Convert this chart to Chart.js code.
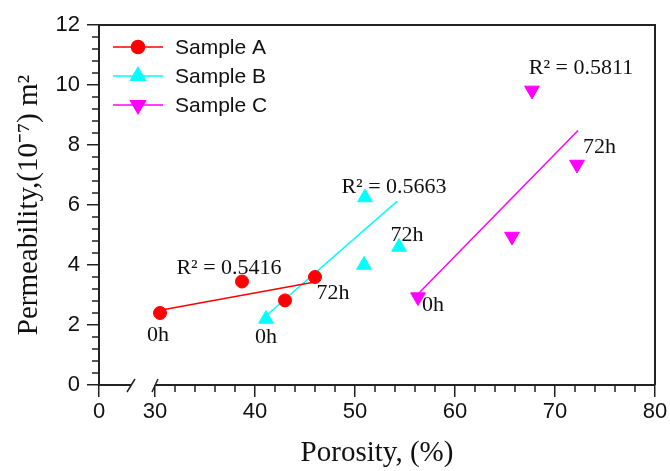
<!DOCTYPE html>
<html>
<head>
<meta charset="utf-8">
<title>Porosity vs permeability</title>
<script src="https://cdn.jsdelivr.net/npm/chart.js@4.4.1/dist/chart.umd.min.js"></script>
<style>
	html, body { margin: 0; padding: 0; background: #fff; }
	#wrap { width: 670px; height: 471px; }
</style>
</head>
<body>
<div id="wrap"><canvas id="porosityChart" width="670" height="471"></canvas></div>
<script>
// porosity (%) and permeability (10^-7 m2)
const porosityA = [30.5, 38.7, 43.0, 46.0];
const permeabilityA = [2.4, 3.45, 2.82, 3.6];
const porosityB = [41.1, 50.9, 51.0, 54.4];
const permeabilityB = [2.2, 4.0, 6.25, 4.6];
const porosityC = [56.3, 65.7, 67.7, 72.2];
const permeabilityC = [2.93, 4.95, 9.82, 7.35];

// trend lines, end points as drawn
const trendXA = [30.65, 45.7];
const trendYA = [2.5, 3.42];
const trendXB = [40.7, 54.2];
const trendYB = [2.19, 6.12];
const trendXC = [56.3, 72.3];
const trendYC = [3.03, 8.48];

const seriesLabels = ['Sample A', 'Sample B', 'Sample C'];
const xTicks = [0, 30, 40, 50, 60, 70, 80];
const yTicks = [0, 2, 4, 6, 8, 10, 12];

// text notes on the plot
const noteText = ['R\u00b2 = 0.5416', '0h', '72h', 'R\u00b2 = 0.5663', '0h', '72h', 'R\u00b2 = 0.5811', '0h', '72h'];
const noteX = [37.4, 30.3, 47.8, 53.9, 41.1, 55.2, 72.6, 57.8, 74.45];
const noteY = [3.9, 1.67, 3.07, 6.6, 1.6, 5.0, 10.57, 2.67, 7.92];

// the x axis is broken between 0 and 30: "0" sits at this value
const xAxisStart = 24.4;
const breakFrom = 27.6;
const breakTo = 30;

function pts(xs, ys)
{
	return xs.map(function(x, i) { return {x: x, y: ys[i]}; });
}

const colA = '#ff0000';
const colB = '#00ffff';
const colC = '#ff00ff';

const brokenAxis = {
	id: 'brokenAxis',
	afterDraw: function(chart)
	{
		const ctx = chart.ctx;
		const area = chart.chartArea;
		const xs = chart.scales.x;
		const ys = chart.scales.y;

		ctx.save();
		ctx.strokeStyle = '#222';
		ctx.lineWidth = 2;

		// frame top and right
		ctx.beginPath();
		ctx.moveTo(area.left, area.top);
		ctx.lineTo(area.right, area.top);
		ctx.lineTo(area.right, area.bottom);
		ctx.stroke();

		// x axis line with a gap
		const b1 = xs.getPixelForValue(breakFrom);
		const b2 = xs.getPixelForValue(breakTo);
		ctx.beginPath();
		ctx.moveTo(area.left, area.bottom);
		ctx.lineTo(b1, area.bottom);
		ctx.moveTo(b2, area.bottom);
		ctx.lineTo(area.right, area.bottom);
		ctx.stroke();

		ctx.lineWidth = 1.5;
		ctx.beginPath();
		ctx.moveTo(b1 - 4, area.bottom + 7);
		ctx.lineTo(b1 + 4, area.bottom - 6);
		ctx.moveTo(b2 - 3, area.bottom + 7);
		ctx.lineTo(b2 + 3, area.bottom - 6);
		ctx.stroke();

		// minor ticks
		ctx.beginPath();
		for (let i = 1; i < 30; i++)
		{
			if (i % 5 === 0) continue;
			const py = ys.getPixelForValue(i * 0.4);
			ctx.moveTo(area.left - 7, py);
			ctx.lineTo(area.left, py);
		}
		for (let v = 32; v < 80; v += 2)
		{
			if (v % 10 === 0) continue;
			const px = xs.getPixelForValue(v);
			ctx.moveTo(px, area.bottom);
			ctx.lineTo(px, area.bottom + 7);
		}
		ctx.stroke();

		// notes
		ctx.fillStyle = '#111';
		ctx.font = '22px "Liberation Serif"';
		ctx.textAlign = 'center';
		ctx.textBaseline = 'middle';
		noteText.forEach(function(t, i)
		{
			ctx.fillText(t, xs.getPixelForValue(noteX[i]), ys.getPixelForValue(noteY[i]));
		});

		// legend
		ctx.textAlign = 'left';
		ctx.font = '21px "Liberation Sans"';
		for (let i = 0; i < seriesLabels.length; i++)
		{
			const ds = chart.data.datasets[i];
			const ly = 47 + i * 29;
			ctx.strokeStyle = ds.borderColor;
			ctx.lineWidth = 1.5;
			ctx.beginPath();
			ctx.moveTo(113, ly);
			ctx.lineTo(163, ly);
			ctx.stroke();
			ctx.fillStyle = ds.backgroundColor;
			Chart.helpers.drawPoint(ctx, {
				pointStyle: ds.pointStyle,
				radius: ds.pointRadius,
				rotation: ds.rotation || 0,
				borderWidth: 1
			}, 138, ly);
			ctx.fillStyle = '#111';
			ctx.fillText(seriesLabels[i], 175, ly + 1);
		}
		ctx.restore();
	}
};

const ctx = document.getElementById('porosityChart').getContext('2d');
const chart = new Chart(ctx, {
	type: 'scatter',
	data: {
		datasets: [
			{
				label: seriesLabels[0],
				data: pts(porosityA, permeabilityA),
				pointStyle: 'circle',
				pointRadius: 6.5,
				backgroundColor: colA,
				borderColor: colA,
				borderWidth: 1
			},
			{
				label: seriesLabels[1],
				data: pts(porosityB, permeabilityB),
				pointStyle: 'triangle',
				pointRadius: 8.5,
				backgroundColor: colB,
				borderColor: colB,
				borderWidth: 1
			},
			{
				label: seriesLabels[2],
				data: pts(porosityC, permeabilityC),
				pointStyle: 'triangle',
				rotation: 180,
				pointRadius: 8.5,
				backgroundColor: colC,
				borderColor: colC,
				borderWidth: 1
			},
			{
				data: pts(trendXA, trendYA),
				showLine: true,
				pointRadius: 0,
				borderColor: colA,
				borderWidth: 1.5
			},
			{
				data: pts(trendXB, trendYB),
				showLine: true,
				pointRadius: 0,
				borderColor: colB,
				borderWidth: 1.5
			},
			{
				data: pts(trendXC, trendYC),
				showLine: true,
				pointRadius: 0,
				borderColor: colC,
				borderWidth: 1.5
			}
		]
	},
	options: {
		responsive: false,
		animation: false,
		devicePixelRatio: 1,
		layout: {
			padding: {top: 25, right: 15, left: 0, bottom: 0}
		},
		plugins: {
			legend: {display: false},
			tooltip: {enabled: false}
		},
		scales: {
			x: {
				type: 'linear',
				min: xAxisStart,
				max: 80,
				afterBuildTicks: function(scale)
				{
					scale.ticks = xTicks.map(function(v) { return {value: v === 0 ? xAxisStart : v}; });
				},
				afterFit: function(scale) { scale.height = 86; },
				ticks: {
					color: '#111',
					font: {family: 'Liberation Sans', size: 22},
					padding: 2,
					autoSkip: false,
					maxRotation: 0,
					callback: function(value) { return value === xAxisStart ? '0' : value; }
				},
				grid: {
					drawOnChartArea: false,
					color: '#222',
					lineWidth: 1.5,
					tickLength: 12
				},
				border: {display: false},
				title: {
					display: true,
					text: 'Porosity, (%)',
					color: '#111',
					font: {family: 'Liberation Serif', size: 29},
					padding: {top: 0, bottom: 0}
				}
			},
			y: {
				type: 'linear',
				min: 0,
				max: 12,
				afterBuildTicks: function(scale)
				{
					scale.ticks = yTicks.map(function(v) { return {value: v}; });
				},
				afterFit: function(scale) { scale.width = 99; },
				ticks: {
					color: '#111',
					font: {family: 'Liberation Sans', size: 22},
					padding: 7
				},
				grid: {
					drawOnChartArea: false,
					color: '#222',
					lineWidth: 1.5,
					tickLength: 12
				},
				border: {display: true, color: '#222', width: 2},
				title: {
					display: true,
					text: 'Permeability,(10\u207b\u2077) m\u00b2',
					color: '#111',
					font: {family: 'Liberation Serif', size: 29},
					padding: {top: 12, bottom: 0}
				}
			}
		}
	},
	plugins: [brokenAxis]
});
</script>
</body>
</html>
